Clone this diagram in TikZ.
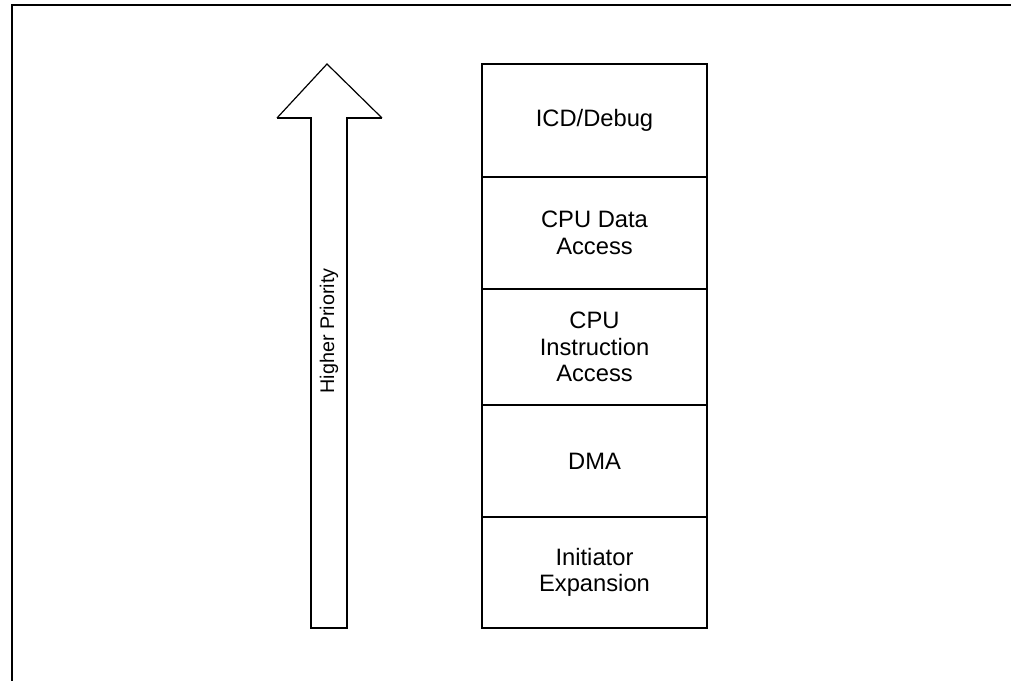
\documentclass[tikz,border=0pt]{standalone}
\usepackage{fontspec}
\setmainfont{Liberation Sans}
\usetikzlibrary{positioning}
\tikzset{
  prio/.style={draw, line width=2pt, outer sep=0pt, inner sep=0pt,
    minimum width=168.75pt, align=center,
    font=\fontsize{17.8}{20}\selectfont},
}
\begin{document}
\begin{tikzpicture}[x=0.75pt,y=-0.75pt]
\useasboundingbox (0,0) rectangle (1011,681);
% outer frame
\draw[line width=2.2pt] (12,690) -- (12,5) -- (1020,5);
% priority stack
\node[prio, minimum height=84.75pt, anchor=north] (icd) at (594.5,64) {ICD/Debug};
\node[prio, minimum height=84pt, below=0pt of icd] (data) {CPU Data\\Access};
\node[prio, minimum height=87pt, below=0pt of data] (instr) {CPU\\Instruction\\Access};
\node[prio, minimum height=84pt, below=0pt of instr] (dma) {DMA};
\node[prio, minimum height=83.25pt, below=0pt of dma] (init) {Initiator\\Expansion};
% arrow
\draw[line width=0.9pt] (277,118) -- (327,64) -- (382,118);
\draw[line width=2pt] (277,118) -- (311,118) -- (311,628) -- (347,628) -- (347,118) -- (382,118);
\node[rotate=90, font=\fontsize{14.8}{17}\selectfont] (prio) at (329,331) {Higher Priority};
\end{tikzpicture}
\end{document}
